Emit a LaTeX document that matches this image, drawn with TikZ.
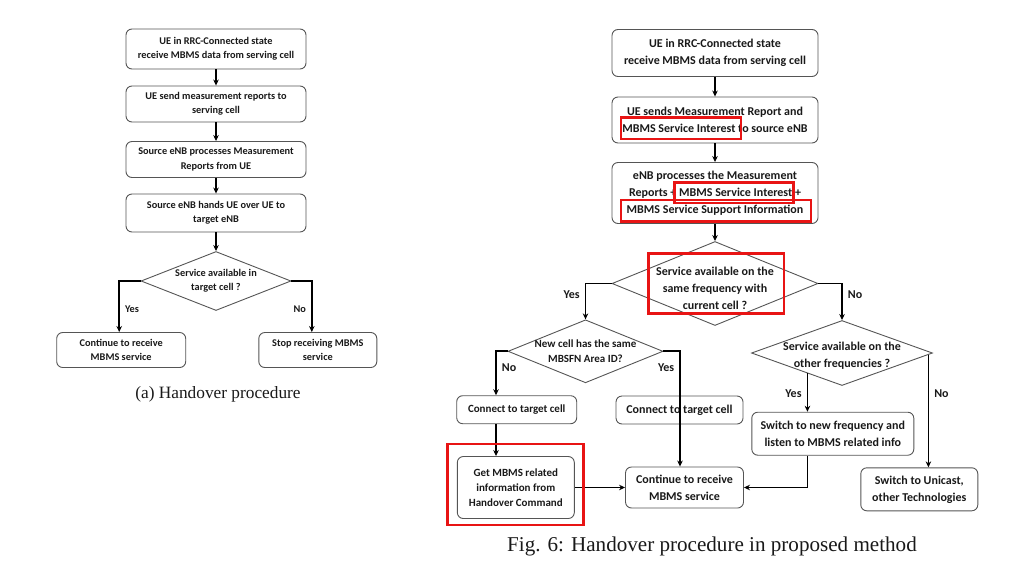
\documentclass[tikz,border=0pt]{standalone}
\usepackage{fontspec}
\setmainfont{Liberation Serif}
\newfontfamily\chartfont{Carlito}
\usepackage{tikz}
\usetikzlibrary{arrows.meta,positioning,calc,shapes.geometric}
\definecolor{boxline}{RGB}{85,85,85}
\definecolor{boxtext}{RGB}{25,25,25}
\definecolor{markred}{RGB}{232,20,20}
\tikzset{
    smalltext/.style={font=\chartfont\bfseries\fontsize{10.3}{14.4}\selectfont},
    midtext/.style={font=\chartfont\bfseries\fontsize{11}{15}\selectfont},
    bigtext/.style={font=\chartfont\bfseries\fontsize{12}{17}\selectfont},
    stepbox/.style n args={2}{
        rectangle, rounded corners=6pt, draw=boxline, line width=0.9pt,
        text=boxtext, align=center, inner sep=0pt,
        minimum width=#1, minimum height=#2},
    decision/.style n args={2}{
        diamond, draw=boxline, line width=0.9pt, inner sep=0pt,
        minimum width=#1, minimum height=#2},
    dtext/.style={text=boxtext, align=center, inner sep=0pt},
    branch/.style={text=boxtext, inner sep=5pt},
    flow/.style={draw=black, line width=1.8pt, -{Stealth[length=6pt,width=5.5pt]}},
    hilite/.style={draw=markred, line width=2.6pt},
    caption/.style={text=boxtext, inner sep=0pt}
}

\begin{document}
\begin{tikzpicture}[x=1pt,y=-1pt]
    \useasboundingbox (0,0) rectangle (1024,576);

    % (a) plain handover
    \node[stepbox={180pt}{40pt}, smalltext] (l1) at (216,49)
        {UE in RRC-Connected state\\receive MBMS data from serving cell};
    \node[stepbox={180pt}{36pt}, smalltext] (l2) at (216,104)
        {UE send measurement reports to\\serving cell};
    \node[stepbox={180pt}{36pt}, smalltext] (l3) at (216,159.5)
        {Source eNB processes Measurement\\Reports from UE};
    \node[stepbox={180pt}{38pt}, smalltext] (l4) at (216,213)
        {Source eNB hands UE over UE to\\target eNB};
    \node[decision={150pt}{59pt}] (lcheck) at (216,281) {};
    \node[dtext, smalltext] at (lcheck) {Service available in\\target cell ?};
    \node[stepbox={129pt}{35pt}, smalltext] (lkeep) at (121.2,350)
        {Continue to receive\\MBMS service};
    \node[stepbox={118pt}{35pt}, smalltext] (lstop) at (317.8,350)
        {Stop receiving MBMS\\service};

    \draw[flow] (l1) -- (l2);
    \draw[flow] (l2) -- (l3);
    \draw[flow] (l3) -- (l4);
    \draw[flow] (l4) -- (lcheck);
    \draw[flow] (lcheck.west) -| node[pos=.78, right, branch, smalltext] {Yes} ([xshift=-2pt]lkeep.north);
    \draw[flow] (lcheck.east) -| node[pos=.78, left, branch, smalltext] {No} ([xshift=-6pt]lstop.north);

    \node[caption, font=\fontsize{17.3}{20}\selectfont] (capa) at (218,394) {(a) Handover procedure};

    % proposed method
    \node[stepbox={206pt}{47pt}, bigtext] (r1) at (715,53)
        {UE in RRC-Connected state\\receive MBMS data from serving cell};
    \node[stepbox={206pt}{46pt}, bigtext] (r2) at (715,120)
        {UE sends Measurement Report and\\MBMS Service Interest to source eNB};
    \node[stepbox={206pt}{61pt}, bigtext] (r3) at (715,193)
        {eNB processes the Measurement\\Reports + MBMS Service Interest +\\MBMS Service Support Information};
    \node[decision={206pt}{84pt}] (samefreq) at (715,283.5) {};
    \node[dtext, bigtext] at ($(samefreq)+(0,5)$)
        {Service available on the\\same frequency with\\current cell ?};
    \node[decision={155pt}{63pt}] (mbsfn) at (585.5,351.3) {};
    \node[dtext, midtext] at (mbsfn) {New cell has the same\\MBSFN Area ID?};
    \node[decision={181pt}{65pt}] (otherfreq) at (842,353) {};
    \node[dtext, bigtext] at ($(otherfreq)+(0,2.5)$)
        {Service available on the\\other frequencies ?};
    \node[stepbox={120pt}{28pt}, midtext] (conna) at (516.7,409.7) {Connect to target cell};
    \node[stepbox={127pt}{28pt}, bigtext] (connb) at (679.5,410) {Connect to target cell};
    \node[stepbox={162pt}{43pt}, bigtext] (switchf) at (832.8,433.7)
        {Switch to new frequency and\\listen to MBMS related info};
    \node[stepbox={117pt}{62pt}, midtext] (getinfo) at (515.8,487.5)
        {Get MBMS related\\information from\\Handover Command};
    \node[stepbox={118pt}{41pt}, bigtext] (cont) at (684.5,487.5)
        {Continue to receive\\MBMS service};
    \node[stepbox={117pt}{43pt}, bigtext] (unicast) at (919.3,489.3)
        {Switch to Unicast,\\other Technologies};

    \coordinate (oyes) at ($(otherfreq.west)!.62!(otherfreq.south)$);
    \coordinate (ono) at ($(otherfreq.east)!.05!(otherfreq.south)$);

    \draw[flow] (r1) -- (r2);
    \draw[flow] (r2) -- (r3);
    \draw[flow] (r3) -- (samefreq);
    \draw[flow] (samefreq.west) -| node[pos=.65, left, branch, bigtext] {Yes} (mbsfn.north);
    \draw[flow] (samefreq.east) -| node[pos=.65, right, branch, bigtext] {No} (otherfreq.north);
    \draw[flow] (mbsfn.west) -| node[pos=.69, right, branch, bigtext] {No} ([xshift=-20.7pt]conna.north);
    \draw[flow] (mbsfn.east) -| node[pos=.57, left, branch, bigtext] {Yes} ([xshift=-4.5pt]cont.north);
    \draw[flow] ([xshift=-20.7pt]conna.south) -- ([xshift=-20.7pt]conna.south |- getinfo.north);
    \draw[flow] (getinfo.east) -- (cont.west);
    \draw[flow] (oyes) -- node[pos=.54, left, branch, bigtext] {Yes} (oyes |- switchf.north);
    \draw[flow] (ono) -- node[pos=.35, right, branch, bigtext] {No} (ono |- unicast.north);
    \draw[flow] (switchf.south -| oyes) |- (cont.east);

    \draw[hilite] (621,117.7) rectangle (741,139);
    \draw[hilite] (674.3,182.3) rectangle (793.3,203);
    \draw[hilite] (621,200) rectangle (811,221.7);
    \draw[hilite] (648.3,253.3) rectangle (784,313.3);
    \draw[hilite] (447.3,444) rectangle (583.3,525);

    \node[caption, font=\fontsize{21.1}{24}\selectfont] (capb) at (712,546.7)
        {Fig. 6: Handover procedure in proposed method};
\end{tikzpicture}
\end{document}
